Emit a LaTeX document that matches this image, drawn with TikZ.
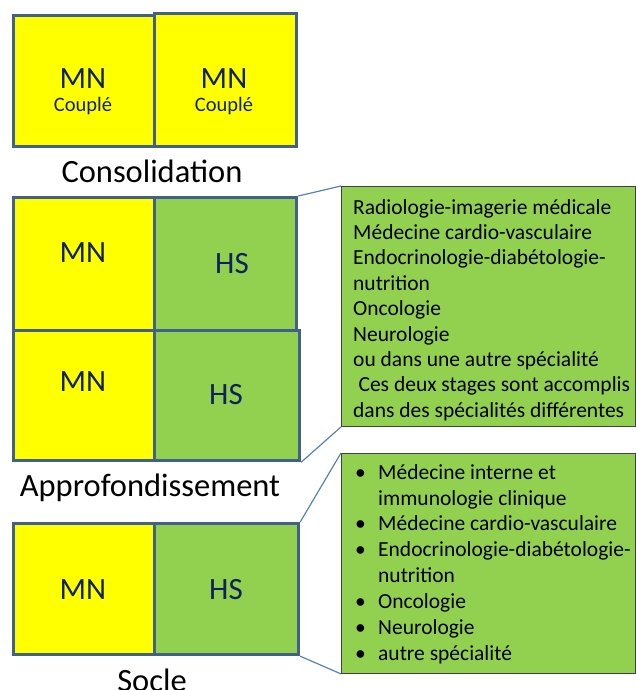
\documentclass[tikz,border=0pt]{standalone}
\usepackage{fontspec}
\setmainfont{Carlito}
\definecolor{bordc}{RGB}{65,96,140}
\definecolor{linkc}{RGB}{84,130,190}
\definecolor{navy}{RGB}{16,34,92}
\definecolor{grn}{RGB}{146,208,80}
\definecolor{yel}{RGB}{255,255,0}
\tikzset{
  cell/.style={draw=bordc, line width=3.2pt, inner sep=0pt, anchor=north west},
  celltxt/.style={text=navy, font=\fontsize{31}{35}\selectfont, anchor=base, inner sep=0pt},
  subtxt/.style={text=navy, font=\fontsize{20.5}{24}\selectfont, anchor=base, inner sep=0pt},
  lvl/.style={text=black, font=\fontsize{32.5}{37}\selectfont, anchor=base, inner sep=0pt},
  listbox/.style={draw=black!75, line width=0.9pt, fill=grn, inner sep=0pt, anchor=north west},
  listtxt/.style={text=black, font=\fontsize{21.5}{25.4}\selectfont, align=left, anchor=north west, inner sep=0pt},
  link/.style={draw=linkc, line width=1.2pt}
}
\begin{document}
\begin{tikzpicture}[x=1pt,y=-1pt]
\useasboundingbox (0,0) rectangle (636,690);
% Consolidation
\node[cell, fill=yel, minimum width=141pt, minimum height=131pt] (c1) at (12,14) {};
\node[cell, fill=yel, minimum width=142pt, minimum height=133pt] (c2) at (153,12) {};
\node[celltxt] (c1t) at (83,89) {MN};
\node[subtxt] (c1s) at (83,111) {Couplé};
\node[celltxt] (c2t) at (224,89) {MN};
\node[subtxt] (c2s) at (224,111) {Couplé};
\node[lvl] (lc) at (152,182) {Consolidation};
% Approfondissement
\node[cell, fill=yel, minimum width=141pt, minimum height=133pt] (a1) at (12,196) {};
\node[cell, fill=grn, minimum width=142pt, minimum height=133pt] (a2) at (153,196) {};
\node[cell, fill=yel, minimum width=141pt, minimum height=130pt] (a3) at (12,329) {};
\node[cell, fill=grn, minimum width=145pt, minimum height=130pt] (a4) at (153,329) {};
\node[celltxt] (a1t) at (83,262) {MN};
\node[celltxt] (a2t) at (232,273) {HS};
\node[celltxt] (a3t) at (83,391) {MN};
\node[celltxt] (a4t) at (226,404) {HS};
\node[lvl] (la) at (150,496) {Approfondissement};
% Socle
\node[cell, fill=yel, minimum width=141pt, minimum height=131pt] (s1) at (12,522) {};
\node[cell, fill=grn, minimum width=144pt, minimum height=131pt] (s2) at (153,522) {};
\node[celltxt] (s1t) at (83,599) {MN};
\node[celltxt] (s2t) at (226,599) {HS};
\node[lvl] (ls) at (152,691) {Socle};
% Lists
\node[listbox, minimum width=294pt, minimum height=240pt] (g1) at (341,186) {};
\node[listtxt] (g1t) at (353,199) {Radiologie-imagerie médicale\\Médecine cardio-vasculaire\\Endocrinologie-diabétologie-\\nutrition\\Oncologie\\Neurologie\\ou dans une autre spécialité\\\hspace*{0.25em}Ces deux stages sont accomplis\\dans des spécialités différentes};
\node[listbox, minimum width=294pt, minimum height=220pt] (g2) at (341,453) {};
\node[listtxt, font=\fontsize{21.5}{25.9}\selectfont] (g2t) at (355,464) {%
\makebox[23pt][l]{\textbullet}Médecine interne et\\
\hspace*{23pt}immunologie clinique\\
\makebox[23pt][l]{\textbullet}Médecine cardio-vasculaire\\
\makebox[23pt][l]{\textbullet}Endocrinologie-diabétologie-\\
\hspace*{23pt}nutrition\\
\makebox[23pt][l]{\textbullet}Oncologie\\
\makebox[23pt][l]{\textbullet}Neurologie\\
\makebox[23pt][l]{\textbullet}autre spécialité};
% Connectors
\draw[link] (a2.north east) -- (g1.north west);
\draw[link] (a4.south east) -- (g1.south west);
\draw[link] (s2.north east) -- (g2.north west);
\draw[link] (s2.south east) -- (g2.south west);
\end{tikzpicture}
\end{document}
